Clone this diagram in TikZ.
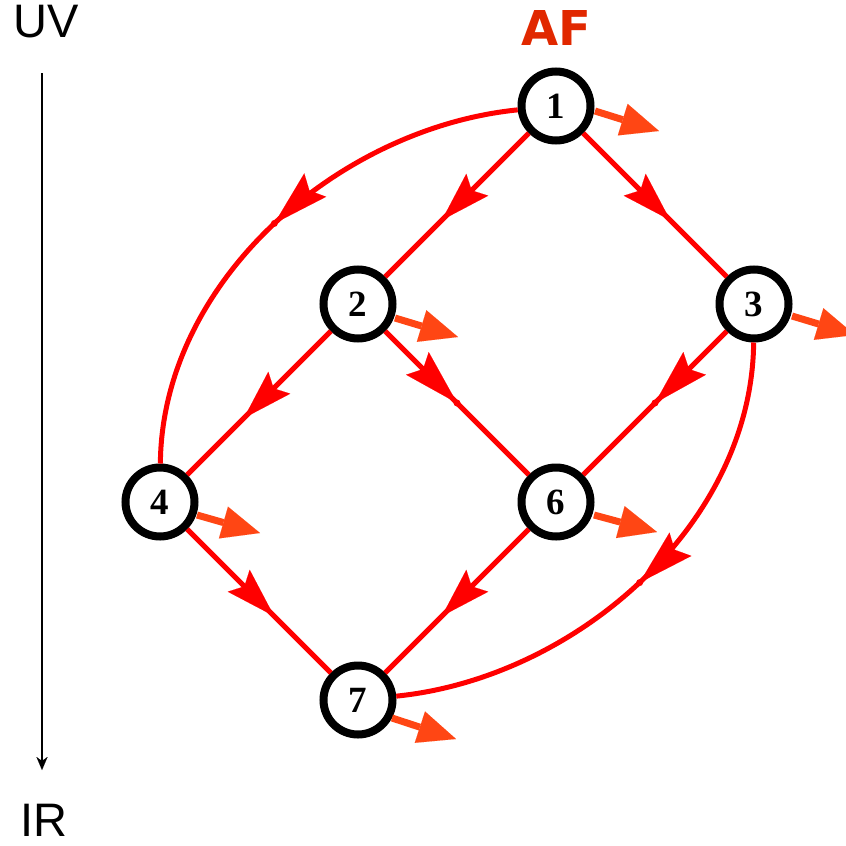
\documentclass[tikz,border=0pt]{standalone}
\usepackage{fontspec}
\setmainfont{Liberation Serif}
\newfontfamily\labfont{Liberation Sans}
\newfontfamily\affont{DejaVu Sans}
\usetikzlibrary{arrows.meta,decorations.markings,calc}
\definecolor{edgered}{RGB}{255,0,0}
\definecolor{orarrow}{RGB}{255,70,20}
\definecolor{afred}{RGB}{225,40,0}
\begin{document}
\begin{tikzpicture}[x=1pt,y=-1pt,
  vtx/.style={circle,draw=black,line width=8pt,fill=white,minimum size=69pt,inner sep=0pt,
    font=\fontsize{37}{40}\selectfont\bfseries},
  redge/.style={draw=edgered,line width=5pt,
    postaction={decorate,decoration={markings,
      mark=at position 0.5 with {\arrow[edgered]{Stealth[length=56pt,width=32pt,inset=8pt,line width=0.01pt]}
        \fill[edgered] (0,0) circle (3.5pt);}}}},
  redgeb/.style={draw=edgered,line width=5pt,
    postaction={decorate,decoration={markings,
      mark=at position 0.605 with {\arrow[edgered]{Stealth[length=50pt,width=31pt,inset=8pt,line width=0.01pt]}}}}},
  orarr/.style={draw=orarrow,line width=7pt,-{Triangle[length=38pt,width=33pt,line width=0.01pt]}},
  axis/.style={draw=black,line width=1.5pt,-{Stealth[length=13pt,width=11pt,inset=4pt,line width=0.01pt]}},
  axlab/.style={font=\labfont\fontsize{47}{50}\selectfont,inner sep=0pt}
]
\useasboundingbox (0,0) rectangle (846,846);

% labels
\node[axlab] (uv) at (46,22) {UV};
\node[axlab] (ir) at (44,820) {IR};
\node[font=\affont\bfseries\fontsize{48}{50}\selectfont,text=afred,inner sep=0pt] (af) at (556,28) {AF};

% axis
\coordinate (axtop) at (42,73);
\coordinate (axbot) at (42,770);
\draw[axis] (axtop) -- (axbot);

% vertices
\node[vtx] (n1) at (556,106) {1};
\node[vtx] (n2) at (358,304) {2};
\node[vtx] (n3) at (754,304) {3};
\node[vtx] (n4) at (160,502) {4};
\node[vtx] (n6) at (556,502) {6};
\node[vtx] (n7) at (358,700) {7};

% edges
\draw[redgeb] (n1) -- (n2);
\draw[redgeb] (n1) -- (n3);
\draw[redgeb] (n2) -- (n4);
\draw[redge] (n2) -- (n6);
\draw[redge] (n3) -- (n6);
\draw[redgeb] (n4) -- (n7);
\draw[redgeb] (n6) -- (n7);
\draw[redge] (n1) .. controls (338,128) and (162,282) .. (n4);
\draw[redge] (n3) .. controls (752,524) and (576,678) .. (n7);

% outgoing orange arrows
\coordinate (o1s) at (595,111); \coordinate (o1e) at (659,131);
\coordinate (o2s) at (395,318); \coordinate (o2e) at (458,337);
\coordinate (o3s) at (792,316); \coordinate (o3e) at (855,335);
\coordinate (o4s) at (197,515); \coordinate (o4e) at (260,533);
\coordinate (o6s) at (594,515); \coordinate (o6e) at (657,532);
\coordinate (o7s) at (392,718); \coordinate (o7e) at (456,739);
\draw[orarr] (o1s) -- (o1e);
\draw[orarr] (o2s) -- (o2e);
\draw[orarr] (o3s) -- (o3e);
\draw[orarr] (o4s) -- (o4e);
\draw[orarr] (o6s) -- (o6e);
\draw[orarr] (o7s) -- (o7e);
\end{tikzpicture}
\end{document}
